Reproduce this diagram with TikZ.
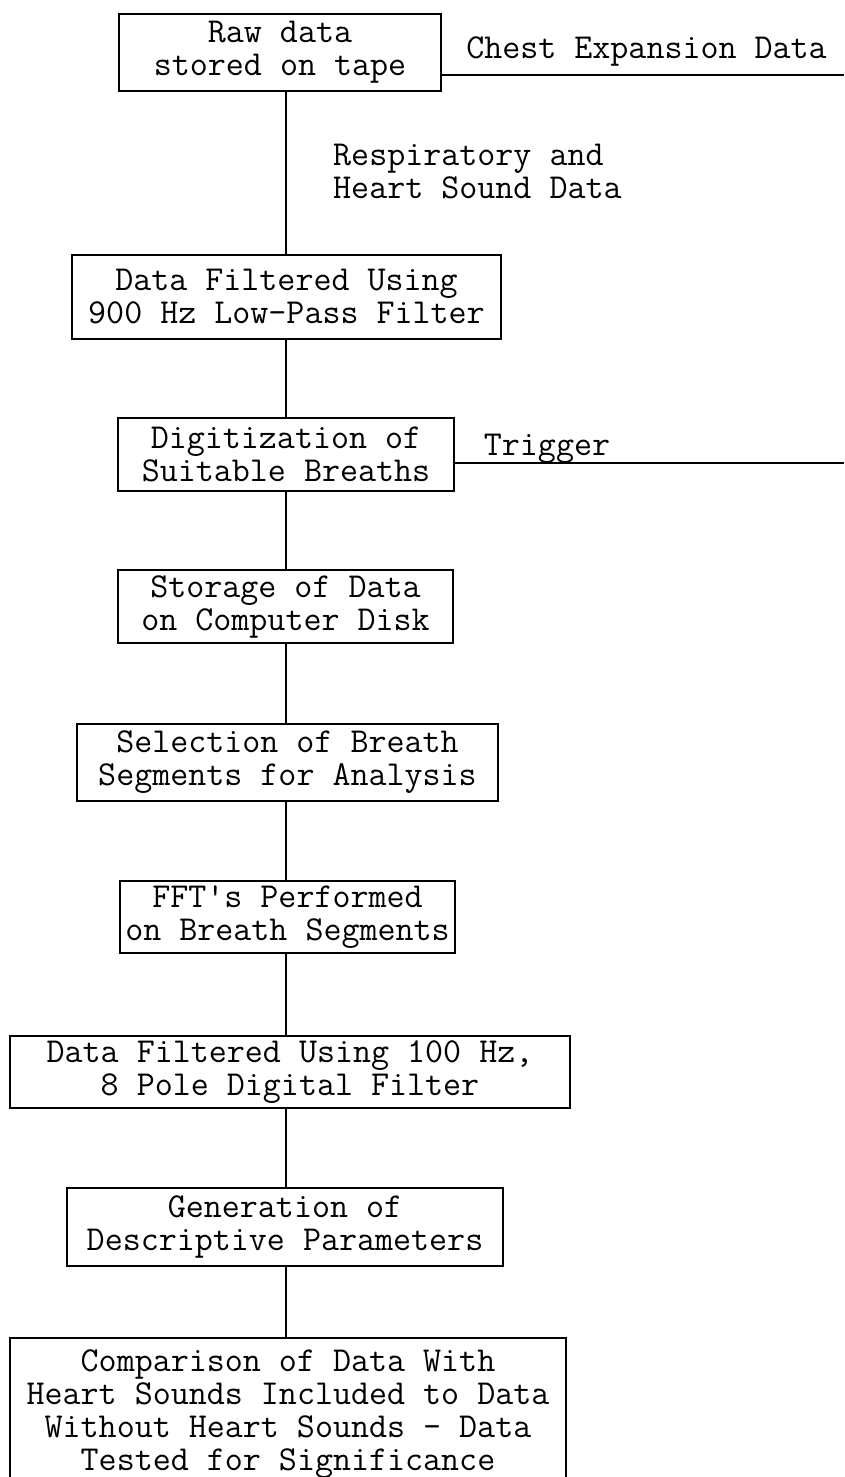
\documentclass[tikz,border=0pt]{standalone}
\begin{document}
\begin{tikzpicture}[x=1pt,y=-1pt,
  box/.style={draw, line width=1.6pt, inner sep=0pt, align=center,
    font=\fontsize{35}{33}\selectfont\ttfamily},
  lbl/.style={inner sep=0pt, font=\fontsize{35}{33}\selectfont\ttfamily},
  conn/.style={line width=1.6pt}]
\clip (0,0) rectangle (844,1477);
\fill[white] (0,0) rectangle (844,1477);
\coordinate (spine) at (286,0);
\node[box, minimum width=322pt, minimum height=77pt] (b1) at (280,52.5) {Raw data\\stored on tape};
\node[box, minimum width=429pt, minimum height=84pt] (b2) at (286.5,297) {Data Filtered Using\\900 Hz Low-Pass Filter};
\node[box, minimum width=336pt, minimum height=73pt] (b3) at (286,454.5) {Digitization of\\Suitable Breaths};
\node[box, minimum width=335pt, minimum height=73pt] (b4) at (285.5,606.5) {Storage of Data\\on Computer Disk};
\node[box, minimum width=421pt, minimum height=77pt] (b5) at (287.5,762.5) {Selection of Breath\\Segments for Analysis};
\node[box, minimum width=335pt, minimum height=72pt] (b6) at (287.5,917) {FFT\textquotesingle s Performed\\on Breath Segments};
\node[box, minimum width=560pt, minimum height=72pt] (b7) at (290,1072) {Data Filtered Using 100 Hz,\\8 Pole Digital Filter};
\node[box, minimum width=436pt, minimum height=78pt] (b8) at (285,1227) {Generation of\\Descriptive Parameters};
\node[box, minimum width=556pt, minimum height=152pt] (b9) at (288,1414) {Comparison of Data With\\Heart Sounds Included to Data\\Without Heart Sounds - Data\\Tested for Significance};
% spine connectors
\foreach \a/\b in {b1/b2,b2/b3,b3/b4,b4/b5,b5/b6,b6/b7,b7/b8,b8/b9}{
  \draw[conn] (spine |- \a.south) -- (spine |- \b.north);
}
% side branches
\coordinate (chestEnd) at (844,75);
\coordinate (trigEnd) at (844,463);
\draw[conn] (b1.east |- chestEnd) -- (chestEnd);
\draw[conn] (b3.east |- trigEnd) -- (trigEnd);
\node[lbl] (chest) at (646.5,51) {Chest Expansion Data};
\node[lbl] (trig) at (547,449) {Trigger};
\node[lbl, anchor=west, align=left] (resp) at (333,172) {Respiratory and\\Heart Sound Data};
\end{tikzpicture}
\end{document}
